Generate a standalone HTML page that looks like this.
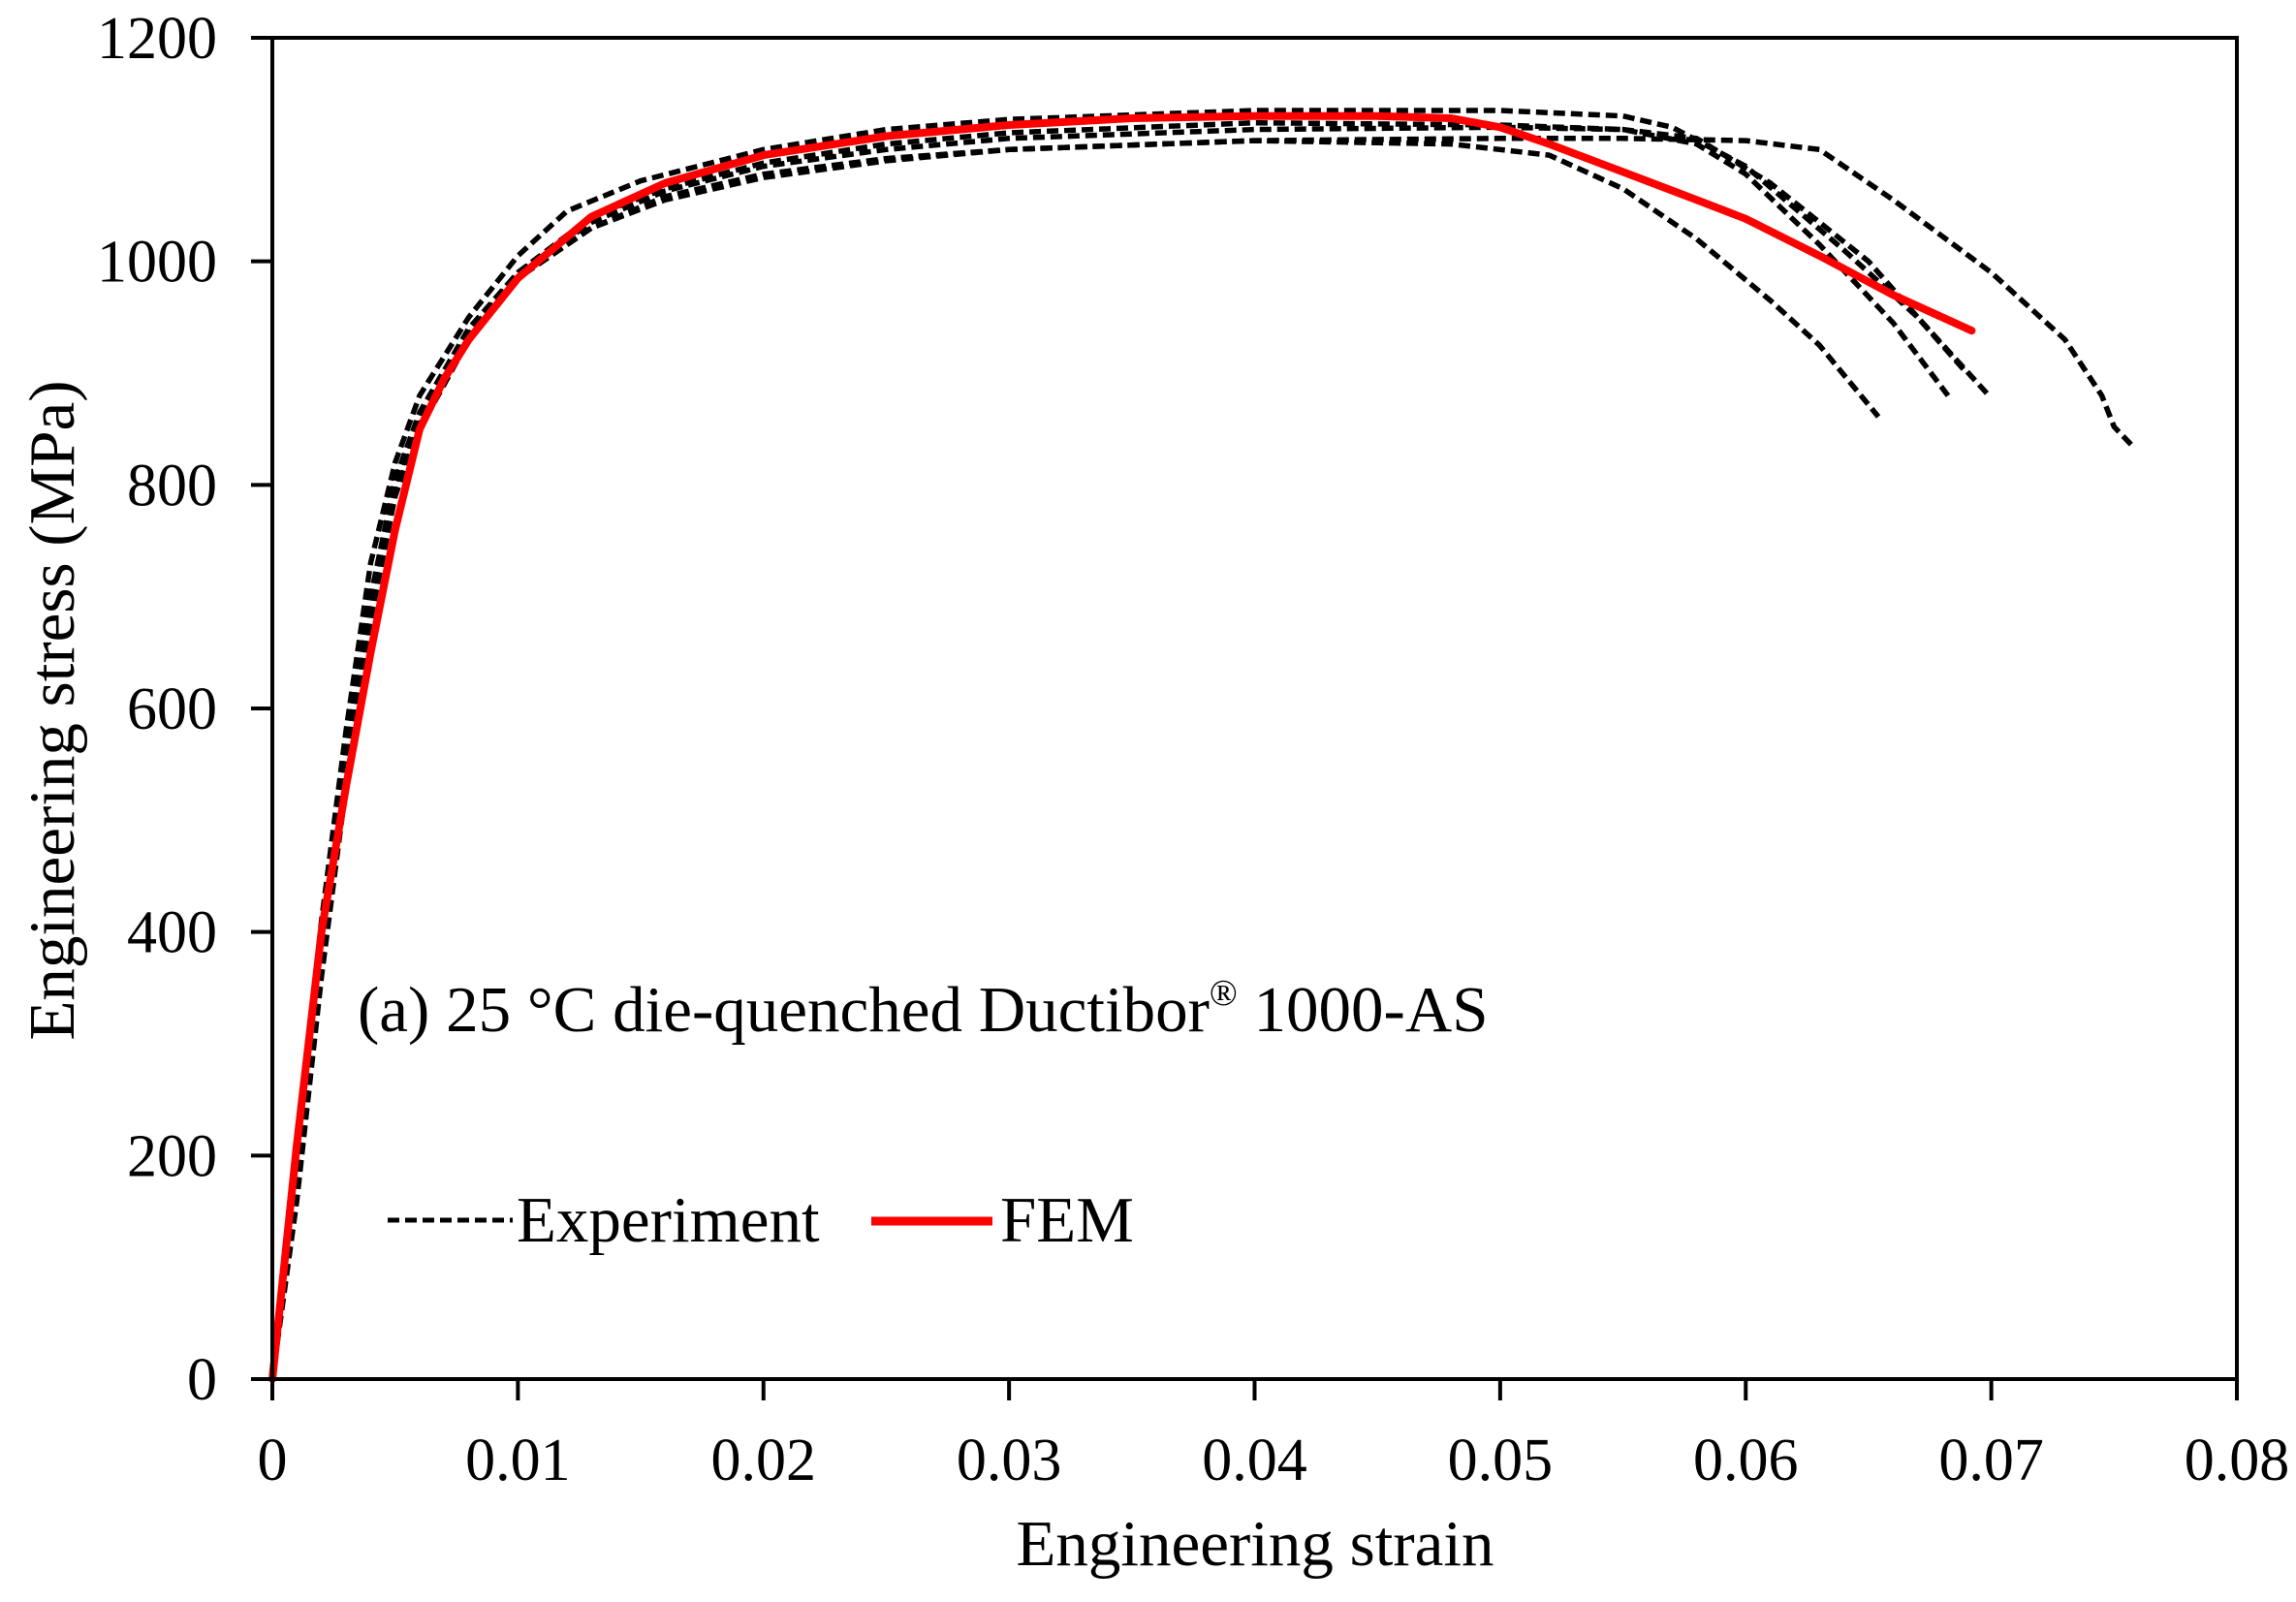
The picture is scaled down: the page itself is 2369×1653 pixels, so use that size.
<!DOCTYPE html>
<html><head><meta charset="utf-8"><style>
html,body{margin:0;padding:0;background:#fff;}
svg{display:block;}
text{font-family:"Liberation Serif",serif;fill:#000;}
</style></head><body>
<svg id="chart" width="2369" height="1653" viewBox="0 0 2369 1653" xmlns="http://www.w3.org/2000/svg">
<g id="series"></g>
<g id="axes"></g>
<text x="369" y="1064" font-size="67">(a) 25 °C die-quenched Ductibor<tspan font-size="38" dy="-27">®</tspan><tspan dy="27"> 1000-AS</tspan></text>
<g>
<line x1="400" y1="1259" x2="529" y2="1259" stroke="#000" stroke-width="5" stroke-dasharray="12 6"/>
<text x="533" y="1281" font-size="67">Experiment</text>
<line x1="899" y1="1260" x2="1024" y2="1260" stroke="#ff0000" stroke-width="9"/>
<text x="1032" y="1281" font-size="67">FEM</text>
</g>
<text x="1295" y="1615" font-size="67" text-anchor="middle">Engineering  strain</text>
<text transform="translate(76,733) rotate(-90)" font-size="67" text-anchor="middle">Engineering  stress (MPa)</text>
</svg>
<script>
const xTicks=[0,0.01,0.02,0.03,0.04,0.05,0.06,0.07,0.08];
const xTickLabels=["0","0.01","0.02","0.03","0.04","0.05","0.06","0.07","0.08"];
const yTicks=[0,200,400,600,800,1000,1200];
const yTickLabels=["0","200","400","600","800","1000","1200"];
const femStrain=[0,0.001,0.002,0.003,0.004,0.005,0.006,0.007,0.008,0.01,0.013,0.016,0.02,0.025,0.03,0.035,0.04,0.045,0.048,0.05,0.052,0.055,0.058,0.06,0.063,0.066,0.0692];
const femStress=[0,210,400,530,650,760,850,895,930,985,1040,1070,1095,1112,1122,1128,1130,1130,1128,1120,1105,1080,1055,1038,1005,970,938];
const expA=[[0,0],[0.001,180],[0.002,380],[0.003,540],[0.004,690],[0.005,790],[0.006,850],[0.008,930],[0.01,985],[0.013,1030],[0.016,1058],[0.02,1078],[0.025,1092],[0.03,1100],[0.04,1108],[0.048,1105],[0.052,1095],[0.055,1065],[0.058,1020],[0.061,965],[0.063,925],[0.0654,861]];
const expB=[[0,0],[0.001,200],[0.002,400],[0.003,560],[0.004,700],[0.005,800],[0.006,860],[0.008,935],[0.01,990],[0.013,1035],[0.016,1063],[0.02,1085],[0.025,1100],[0.03,1110],[0.04,1118],[0.05,1120],[0.055,1118],[0.058,1105],[0.06,1078],[0.063,1015],[0.066,945],[0.0683,878]];
const expC=[[0,0],[0.001,190],[0.002,410],[0.003,580],[0.004,730],[0.005,820],[0.006,880],[0.008,950],[0.01,1005],[0.012,1045],[0.015,1072],[0.02,1100],[0.025,1118],[0.03,1127],[0.04,1135],[0.05,1135],[0.055,1130],[0.057,1120],[0.06,1085],[0.064,1010],[0.067,950],[0.0699,880]];
const expD=[[0,0],[0.001,170],[0.002,370],[0.003,550],[0.004,700],[0.005,805],[0.006,865],[0.008,940],[0.01,990],[0.013,1040],[0.016,1065],[0.02,1088],[0.025,1105],[0.03,1115],[0.04,1124],[0.05,1122],[0.055,1118],[0.058,1110],[0.061,1070],[0.065,1000],[0.069,900]];
const expE=[[0,0],[0.001,160],[0.002,360],[0.003,530],[0.004,680],[0.005,790],[0.006,855],[0.008,930],[0.01,985],[0.013,1030],[0.016,1055],[0.02,1075],[0.025,1090],[0.03,1100],[0.04,1108],[0.05,1110],[0.055,1110],[0.06,1108],[0.063,1100],[0.066,1055],[0.07,990],[0.073,930],[0.0745,880],[0.075,852],[0.0757,836]];
const experiments=[expA,expB,expC,expD,expE];

const X0=281,X1=2308,Y0=1423,Y1=39;
function sx(v){return X0+(v-0)/(0.08-0)*(X1-X0);}
function sy(v){return Y0-(v-0)/(1200-0)*(Y0-Y1);}
const NS="http://www.w3.org/2000/svg";
function mk(tag,attrs,parent){const e=document.createElementNS(NS,tag);for(const k in attrs)e.setAttribute(k,attrs[k]);parent.appendChild(e);return e;}
const axes=document.getElementById('axes');
const series=document.getElementById('series');
const frame=mk('rect',{x:X0,y:Y1,width:X1-X0,height:Y0-Y1,fill:'none',stroke:'#000','stroke-width':4},axes);


xTicks.forEach((t,i)=>{
  const l=mk('line',{x1:sx(t),x2:sx(t),y1:Y0,y2:Y0+22,stroke:'#000','stroke-width':4},axes);
  
  
  const tx=mk('text',{x:sx(t),y:1527,'font-size':62,'text-anchor':'middle'},axes);
  
  
  tx.textContent=xTickLabels[i];
});
yTicks.forEach((t,i)=>{
  const l=mk('line',{x1:X0-22,x2:X0,y1:sy(t),y2:sy(t),stroke:'#000','stroke-width':4},axes);
  
  
  const tx=mk('text',{x:224,y:sy(t)+21,'font-size':62,'text-anchor':'end'},axes);
  
  
  tx.textContent=yTickLabels[i];
});
experiments.forEach((pts,i)=>{
  const d=pts.map((p,j)=>(j?'L':'M')+sx(p[0]).toFixed(1)+' '+sy(p[1]).toFixed(1)).join(' ');
  const p=mk('path',{d:d,fill:'none',stroke:'#000','stroke-width':5.5,'stroke-dasharray':'12 6','stroke-linejoin':'round'},series);
  
  
});
const fd=femStrain.map((v,j)=>(j?'L':'M')+sx(v).toFixed(1)+' '+sy(femStress[j]).toFixed(1)).join(' ');
const fp=mk('path',{d:fd,fill:'none',stroke:'#ff0000','stroke-width':8,'stroke-linejoin':'round','stroke-linecap':'round'},series);


</script>
</body></html>
